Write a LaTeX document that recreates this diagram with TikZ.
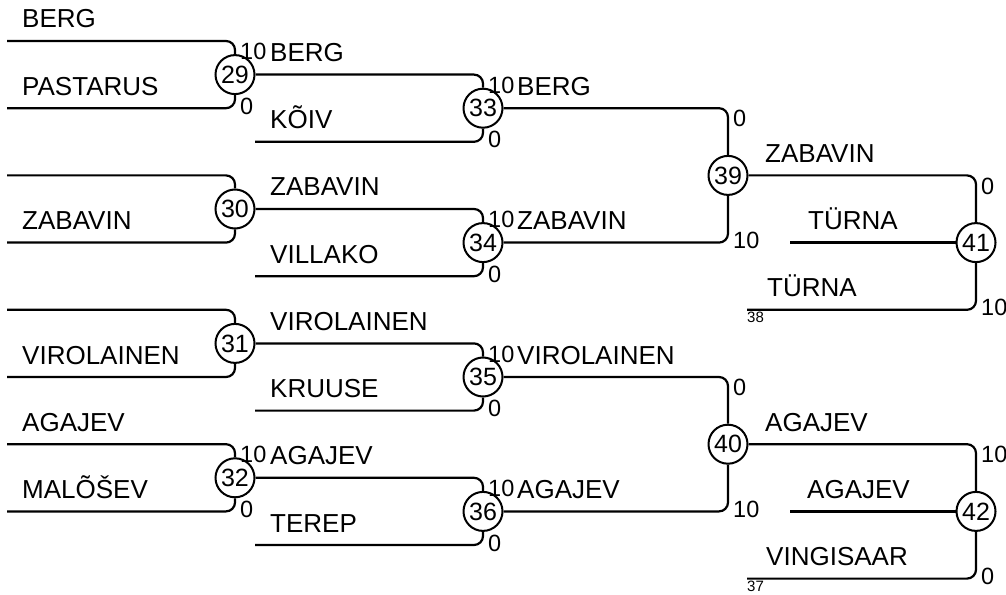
\documentclass[tikz,border=0pt]{standalone}
\usepackage{fontspec}
\setmainfont{Liberation Sans}
\usetikzlibrary{calc,positioning}

\tikzset{
  wire/.style={line width=2.2pt,rounded corners=9pt},
  match/.style={circle,draw,line width=2pt,inner sep=0pt,minimum size=39pt,
    font=\fontsize{25}{25}\selectfont},
  player/.style={anchor=base west,inner sep=0pt,yshift=13pt,
    font=\fontsize{26}{30}\selectfont},
  score/.style={inner sep=0pt,xshift=5pt,font=\fontsize{23.5}{24}\selectfont},
  seed/.style={anchor=north west,inner sep=0pt,yshift=-2pt,
    font=\fontsize{15}{15}\selectfont}
}

\begin{document}
\begin{tikzpicture}[x=1pt,y=-33.6pt]
  \useasboundingbox (0,-1.22) rectangle (1006,16.488);

  % matches
  \foreach \m/\x/\r in {29/235/1,30/235/5,31/235/9,32/235/13,
                        33/483/2,34/483/6,35/483/10,36/483/14,
                        39/728/4,40/728/12,41/976/6,42/976/14}
    \node[match] (m\m) at (\x,\r) {\m};

  % first round
  \foreach \m/\r in {29/1,30/5,31/9,32/13}{
    \coordinate (a\m) at (7,\r-1);
    \coordinate (b\m) at (7,\r+1);
    \draw[wire] (a\m) -| (m\m);
    \draw[wire] (b\m) -| (m\m);
  }

  % second round
  \foreach \m/\f/\r in {33/29/2,34/30/6,35/31/10,36/32/14}{
    \coordinate (b\m) at (255,\r+1);
    \draw[wire] (m\f) -| (m\m);
    \draw[wire] (b\m) -| (m\m);
  }

  % semifinals
  \draw[wire] (m33) -| (m39);
  \draw[wire] (m34) -| (m39);
  \draw[wire] (m35) -| (m40);
  \draw[wire] (m36) -| (m40);

  % finals
  \coordinate (d41) at (790,6);
  \coordinate (b41) at (747,8);
  \coordinate (d42) at (790,14);
  \coordinate (b42) at (747,16);
  \draw[wire] (m39) -| (m41);
  \draw[wire] (d41) -- (m41);
  \draw[wire] (b41) -| (m41);
  \draw[wire] (m40) -| (m42);
  \draw[wire] (d42) -- (m42);
  \draw[wire] (b42) -| (m42);
  \node[seed] (s38) at (b41) {38};
  \node[seed] (s37) at (b42) {37};

  % names
  \foreach \x/\r/\t [count=\i] in {22/0/BERG,22/2/PASTARUS,22/6/ZABAVIN,
      22/10/VIROLAINEN,22/12/AGAJEV,22/14/MALÕŠEV,
      270/1/BERG,270/3/KÕIV,270/5/ZABAVIN,270/7/VILLAKO,
      270/9/VIROLAINEN,270/11/KRUUSE,270/13/AGAJEV,270/15/TEREP,
      517/2/BERG,517/6/ZABAVIN,517/10/VIROLAINEN,517/14/AGAJEV,
      765/4/ZABAVIN,808/6/TÜRNA,767/8/TÜRNA,
      765/12/AGAJEV,807/14/AGAJEV,766/16/VINGISAAR}
    \node[player] (p\i) at (\x,\r) {\t};

  % scores
  \foreach \m/\u/\v/\s/\t in {29/a29/b29/10/0,32/a32/b32/10/0,
      33/m29/b33/10/0,34/m30/b34/10/0,35/m31/b35/10/0,36/m32/b36/10/0,
      39/m33/m34/0/10,40/m35/m36/0/10,41/m39/b41/0/10,42/m40/b42/10/0}{
    \node[score,anchor=north west,yshift=-2pt] (h\m) at (m\m |- \u) {\s};
    \node[score,anchor=west,yshift=2pt] (g\m) at (m\m |- \v) {\t};
  }
\end{tikzpicture}
\end{document}
